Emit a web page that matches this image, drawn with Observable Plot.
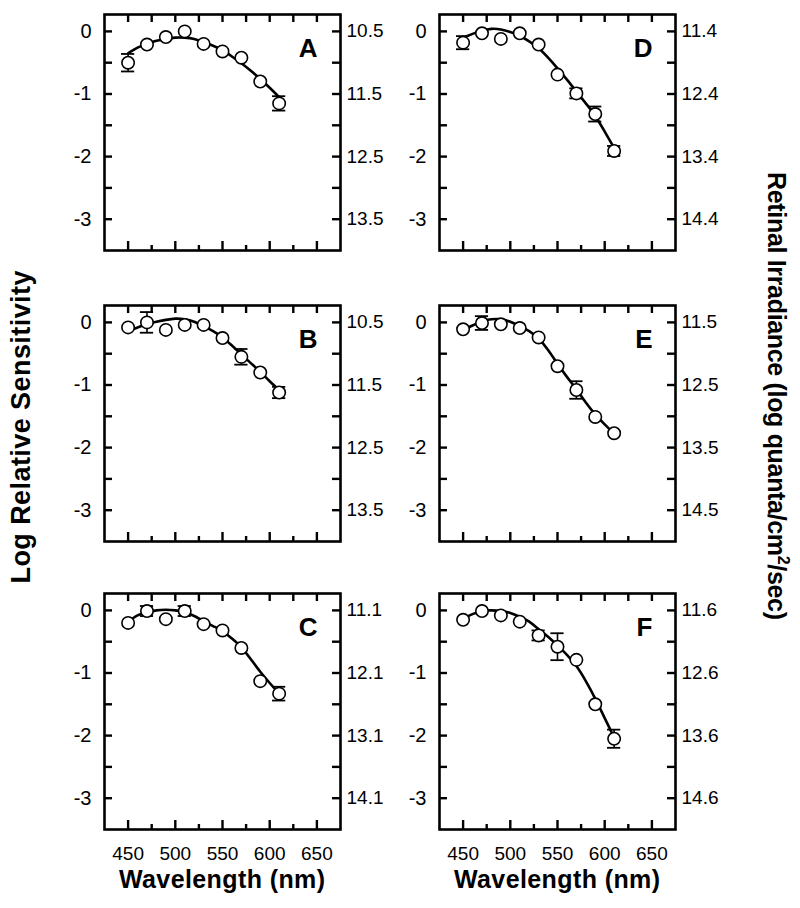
<!DOCTYPE html>
<html><head><meta charset="utf-8">
<script src="https://cdn.jsdelivr.net/npm/d3@7"></script>
<script src="https://cdn.jsdelivr.net/npm/@observablehq/plot@0.6"></script>
<style>
body{margin:0;background:#fff;}
#fig{position:relative;width:800px;height:908px;overflow:hidden;background:#fff;font-family:"Liberation Sans",Arial,sans-serif;}
#fig > svg.panel{position:absolute;}
</style></head><body><div id="fig"></div>
<script>
// ---- data ----
const wavelengths = [450,470,490,510,530,550,570,590,610];
const fitWavelengths = [450,460,470,480,490,500,510,520,530,540,550,560,570,580,590,600,610];
const panelNames = ["A","B","C","D","E","F"];
const rightAxisOffsets = [10.5,10.5,11.1,11.4,11.5,11.6];

const sensA = [-0.50,-0.21,-0.09,0.00,-0.20,-0.32,-0.42,-0.80,-1.15];
const sensB = [-0.08,0.00,-0.12,-0.04,-0.04,-0.25,-0.55,-0.80,-1.12];
const sensC = [-0.20,-0.01,-0.14,-0.01,-0.22,-0.32,-0.60,-1.13,-1.33];
const sensD = [-0.18,-0.03,-0.12,-0.03,-0.21,-0.69,-0.99,-1.32,-1.91];
const sensE = [-0.11,-0.01,-0.03,-0.09,-0.24,-0.70,-1.08,-1.51,-1.77];
const sensF = [-0.15,-0.01,-0.08,-0.18,-0.40,-0.58,-0.79,-1.50,-2.05];

const errA = [0.14,null,null,null,null,null,null,null,0.115];
const errB = [null,0.165,null,null,null,null,0.125,null,0.09];
const errC = [null,0.08,null,0.08,null,null,null,null,0.11];
const errD = [0.105,null,null,null,null,null,0.08,0.12,0.08];
const errE = [null,0.11,null,null,null,null,0.14,null,null];
const errF = [null,null,null,null,0.08,0.215,null,null,0.145];

const fitA = [-0.35,-0.26,-0.20,-0.15,-0.12,-0.10,-0.10,-0.12,-0.17,-0.23,-0.30,-0.40,-0.51,-0.63,-0.76,-0.90,-1.05];
const fitB = [-0.14,-0.08,-0.03,0.01,0.04,0.06,0.05,0.01,-0.06,-0.14,-0.24,-0.37,-0.51,-0.65,-0.79,-0.94,-1.08];
const fitC = [-0.18,-0.08,-0.03,0.00,0.01,0.00,-0.03,-0.09,-0.17,-0.25,-0.33,-0.45,-0.59,-0.78,-0.98,-1.16,-1.33];
const fitD = [-0.10,-0.04,0.01,0.04,0.03,-0.01,-0.07,-0.16,-0.27,-0.42,-0.59,-0.77,-0.96,-1.15,-1.35,-1.60,-1.86];
const fitE = [-0.12,-0.05,0.02,0.05,0.05,0.01,-0.06,-0.14,-0.26,-0.44,-0.66,-0.87,-1.07,-1.28,-1.47,-1.63,-1.78];
const fitF = [-0.13,-0.06,-0.01,0.00,-0.01,-0.04,-0.10,-0.18,-0.30,-0.42,-0.56,-0.71,-0.89,-1.13,-1.41,-1.72,-2.03];

const xTicksMajor = [450,500,550,600,650];
const xTicksMinor = [475,525,575,625];
const xTicksAll = [450,475,500,525,550,575,600,625,650];
const yTicksMajor = [0,-1,-2,-3];
const yTicksAll = [0,-0.5,-1,-1.5,-2,-2.5,-3];

const sens = [sensA,sensB,sensC,sensD,sensE,sensF];
const errs = [errA,errB,errC,errD,errE,errF];
const fits = [fitA,fitB,fitC,fitD,fitE,fitF];

// ---- layout ----
const frameW = 236, frameH = 236;
const colFrameLeft = [104, 439];
const rowFrameTop = [14, 305, 593];
const capHalf = 7; // nm, half width of error-bar caps
const font = "'Liberation Sans', Arial, sans-serif";
const tickColor = "black";

const fig = document.getElementById("fig");

for (let i = 0; i < 6; i++) {
  const col = i < 3 ? 0 : 1, row = i % 3;
  const bottom = row === 2;
  const mL = col === 0 ? 60 : 48, mR = col === 0 ? 50 : 62, mT = 10, mB = bottom ? 50 : 10;
  const pts = wavelengths.map((w, j) => ({w, v: sens[i][j], e: errs[i][j]}));
  const bars = pts.filter(d => d.e != null);
  const fit = fitWavelengths.map((w, j) => ({w, v: fits[i][j]}));
  const off = rightAxisOffsets[i];
  const plot = Plot.plot({
    width: mL + frameW + mR,
    height: mT + frameH + mB,
    marginLeft: mL, marginRight: mR, marginTop: mT, marginBottom: mB,
    x: {domain: [425, 675], axis: null},
    y: {domain: [-3.5, 0.27], axis: null},
    style: {background: "transparent", fontFamily: font, color: "black"},
    marks: [
      Plot.frame({stroke: "black", strokeWidth: 2.6}),
      // inward ticks: short rules inset from the opposite edge
      Plot.ruleY(yTicksAll, {y: d => d, insetRight: frameW - 8, stroke: tickColor, strokeWidth: 2.4}),
      Plot.ruleY(yTicksAll, {y: d => d, insetLeft: frameW - 8, stroke: tickColor, strokeWidth: 2.4}),
      Plot.ruleX(xTicksAll, {x: d => d, insetBottom: frameH - 8, stroke: tickColor, strokeWidth: 2.4}),
      Plot.ruleX(xTicksMajor, {x: d => d, insetTop: frameH - 9, stroke: tickColor, strokeWidth: 2.4}),
      Plot.ruleX(xTicksMinor, {x: d => d, insetTop: frameH - 5, stroke: tickColor, strokeWidth: 2.4}),
      // data
      Plot.line(fit, {x: "w", y: "v", curve: "natural", stroke: "black", strokeWidth: 2.6}),
      Plot.ruleX(bars, {x: "w", y1: d => d.v - d.e, y2: d => d.v + d.e, stroke: "black", strokeWidth: 1.6}),
      Plot.ruleY(bars, {y: d => d.v + d.e, x1: d => d.w - capHalf, x2: d => d.w + capHalf, stroke: "black", strokeWidth: 1.8}),
      Plot.ruleY(bars, {y: d => d.v - d.e, x1: d => d.w - capHalf, x2: d => d.w + capHalf, stroke: "black", strokeWidth: 1.8}),
      Plot.dot(pts, {x: "w", y: "v", r: 6.2, fill: "white", stroke: "black", strokeWidth: 1.6}),
      // tick labels
      Plot.axisY(yTicksMajor, {anchor: "left", tickSize: 0, tickPadding: 13, fontSize: 20, label: null, tickFormat: d => String(d)}),
      Plot.axisY(yTicksMajor, {anchor: "right", tickSize: 0, tickPadding: 6, fontSize: 19, label: null, tickFormat: d => (off - d).toFixed(1)}),
      bottom ? Plot.axisX(xTicksMajor, {anchor: "bottom", tickSize: 0, tickPadding: 17, fontSize: 19, label: null, tickFormat: d => String(d)}) : null,
      Plot.text([panelNames[i]], {text: d => d, frameAnchor: "top-right", dx: -23, dy: 24, lineAnchor: "top", textAnchor: "end", fontSize: 26, fontWeight: "bold", fill: "black"})
    ]
  });
  plot.classList.add("panel");
  plot.style.left = (colFrameLeft[col] - mL) + "px";
  plot.style.top = (rowFrameTop[row] - mT) + "px";
  fig.appendChild(plot);
}

// ---- axis titles ----
const svg = d3.select(fig).append("svg")
  .attr("width", 800).attr("height", 908)
  .style("position", "absolute").style("left", "0px").style("top", "0px")
  .attr("font-family", font).attr("font-weight", "bold").attr("fill", "black");

svg.append("text")
  .attr("transform", "translate(30,427) rotate(-90)")
  .attr("text-anchor", "middle").attr("font-size", 27)
  .attr("textLength", 313).attr("lengthAdjust", "spacing")
  .text("Log Relative Sensitivity");

const rt = svg.append("text")
  .attr("transform", "translate(768,396) rotate(90)")
  .attr("text-anchor", "middle").attr("font-size", 25)
  .attr("textLength", 448).attr("lengthAdjust", "spacing");
rt.append("tspan").text("Retinal Irradiance (log quanta/cm");
rt.append("tspan").attr("font-size", 16).attr("dy", -10).text("2");
rt.append("tspan").attr("dy", 10).text("/sec)");

for (const cx of [colFrameLeft[0] + frameW / 2, colFrameLeft[1] + frameW / 2]) {
  svg.append("text")
    .attr("x", cx).attr("y", 888)
    .attr("text-anchor", "middle").attr("font-size", 25)
    .attr("textLength", 206).attr("lengthAdjust", "spacing")
    .text("Wavelength (nm)");
}
</script>
</body></html>
